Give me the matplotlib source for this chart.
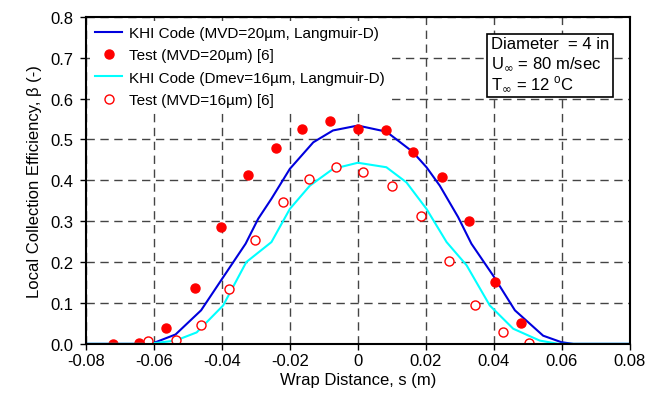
import matplotlib
matplotlib.use("Agg")
import matplotlib.pyplot as plt

plt.rcParams['font.family'] = ['Liberation Sans', 'DejaVu Sans']

# KHI code, MVD = 20 um
khi20_s = [-0.08, -0.0607, -0.0536, -0.0461, -0.0396, -0.033, -0.0293, -0.0254, -0.02,
           -0.0131, -0.0073, 0.0, 0.0084, 0.0161, 0.0202, 0.0241, 0.0295, 0.0334,
           0.0398, 0.0462, 0.0545, 0.0599, 0.0634, 0.08]
khi20_b = [0.0, 0.0, 0.023, 0.082, 0.163, 0.245, 0.306, 0.355, 0.428,
           0.493, 0.522, 0.534, 0.519, 0.470, 0.432, 0.387, 0.310, 0.245,
           0.167, 0.082, 0.020, 0.004, 0.0, 0.0]

# KHI code, Dmev = 16 um
khi16_s = [-0.08, -0.0617, -0.0536, -0.0474, -0.0396, -0.0328, -0.0254, -0.02, -0.0141,
           -0.0073, 0.0, 0.0084, 0.0143, 0.0202, 0.0261, 0.032, 0.0388, 0.0457,
           0.0535, 0.059, 0.08]
khi16_b = [0.0, 0.0, 0.008, 0.028, 0.094, 0.200, 0.249, 0.330, 0.387,
           0.428, 0.443, 0.432, 0.395, 0.330, 0.249, 0.192, 0.094, 0.037,
           0.008, 0.0, 0.0]

# Test data, MVD = 20 um
test20_s = [-0.0721, -0.0644, -0.0565, -0.048, -0.0403, -0.0324, -0.0241, -0.0165,
            -0.0082, 0.0001, 0.0084, 0.0161, 0.0247, 0.0326, 0.0402, 0.048]
test20_b = [0.0, 0.002, 0.040, 0.137, 0.286, 0.413, 0.479, 0.526,
            0.546, 0.525, 0.522, 0.470, 0.407, 0.300, 0.151, 0.052]

# Test data, MVD = 16 um
test16_s = [-0.0617, -0.0536, -0.0461, -0.038, -0.0301, -0.0221, -0.0145, -0.0063,
            0.0015, 0.0101, 0.0185, 0.0267, 0.0344, 0.0426, 0.0504]
test16_b = [0.006, 0.010, 0.046, 0.135, 0.253, 0.347, 0.404, 0.433,
            0.421, 0.385, 0.313, 0.202, 0.096, 0.028, 0.002]

fig = plt.figure(figsize=(6.5, 4.14), dpi=100)
ax = fig.add_axes([0.132, 0.167, 0.837, 0.79])

ax.plot(khi20_s, khi20_b, color='#0000dd', lw=1.5,
        label='KHI Code (MVD=20µm, Langmuir-D)')
ax.plot(test20_s, test20_b, 'o', color='red', ms=6.5, label='Test (MVD=20µm) [6]')
ax.plot(khi16_s, khi16_b, color='cyan', lw=1.5,
        label='KHI Code (Dmev=16µm, Langmuir-D)')
ax.plot(test16_s, test16_b, 'o', mfc='white', mec='red', ms=6.5, mew=1,
        label='Test (MVD=16µm) [6]')

ax.set_xlim(-0.08, 0.08)
ax.set_ylim(0, 0.8)
ax.set_xticks([-0.08, -0.06, -0.04, -0.02, 0, 0.02, 0.04, 0.06, 0.08])
ax.set_xticklabels(['-0.08', '-0.06', '-0.04', '-0.02', '0', '0.02', '0.04', '0.06', '0.08'])
ax.set_yticks([0, 0.1, 0.2, 0.3, 0.4, 0.5, 0.6, 0.7, 0.8])
ax.set_yticklabels([f'{v:.1f}' for v in ax.get_yticks()])
ax.tick_params(labelsize=12, direction='out', length=4, width=1)
ax.tick_params(axis='x', pad=2.5)
ax.tick_params(axis='y', pad=5)
ax.grid(True, ls=(0, (6, 4)), color='#444444', lw=1)
ax.set_axisbelow(True)
for sp in ax.spines.values():
    sp.set_linewidth(1.5)

ax.set_xlabel('Wrap Distance, s (m)', fontsize=12, labelpad=3)
ax.set_ylabel('Local Collection Efficiency, β (-)', fontsize=12, labelpad=6)

leg = ax.legend(loc='upper left', frameon=True, fontsize=11, handlelength=1.8,
                handletextpad=0.4, borderaxespad=0.3, labelspacing=0.55,
                borderpad=0.3, fancybox=False, bbox_to_anchor=(0.0, 1.0))
leg.get_frame().set_facecolor('white')
leg.get_frame().set_edgecolor('none')
leg.get_frame().set_alpha(1.0)

ax.text(0.745, 0.94,
        'Diameter  = 4 in\nU$_\\infty$ = 80 m/sec\nT$_\\infty$ = 12 $^\\mathregular{o}$C',
        transform=ax.transAxes, fontsize=12, va='top', ha='left', linespacing=1.2,
        bbox=dict(boxstyle='square,pad=0.22', fc='white', ec='black', lw=1.2))

fig.savefig('out.png', dpi=100)
